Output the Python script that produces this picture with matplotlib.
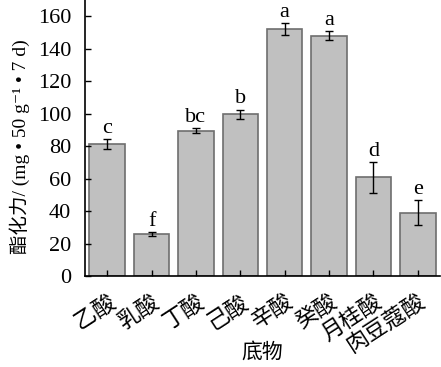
import matplotlib.pyplot as plt

# 数据 (根据图像估算)
substrates = ['乙酸', '乳酸', '丁酸', '己酸', '辛酸', '癸酸', '月桂酸', '肉豆蔻酸']
values = [81.3, 25.8, 89.6, 99.6, 152.2, 148.0, 60.7, 39.1]
errors = [3.0, 1.2, 1.4, 2.8, 3.7, 2.9, 9.5, 7.8]
letters = ['c', 'f', 'bc', 'b', 'a', 'a', 'd', 'e']

plt.rcParams['font.family'] = ['Liberation Serif', 'Noto Sans CJK SC', 'DejaVu Sans']

fig = plt.figure(figsize=(4.41, 3.67), dpi=100)
ax = fig.add_axes([85 / 441, 91 / 367, 355 / 441, 276 / 367])

x = list(range(len(substrates)))
ax.bar(x, values, width=0.8, color='#c0c0c0', edgecolor='#6e6e6e', linewidth=1.2,
       yerr=errors, capsize=3, error_kw={'elinewidth': 1, 'capthick': 1, 'ecolor': 'black'})

for xi, v, e, t in zip(x, values, errors, letters):
    ax.text(xi, v + e + 0.8, t, ha='center', va='bottom', fontsize=16)

ax.set_xlim(-0.5, 7.5)
ax.set_ylim(0, 170)
ax.set_yticks(range(0, 161, 20))
ax.set_xticks(x)
ax.set_xticklabels(substrates, rotation=33, ha='right', rotation_mode='anchor',
                   fontsize=13.5, family='Noto Sans CJK SC')
ax.tick_params(axis='both', direction='in', length=4, width=1, labelsize=16)
ax.tick_params(axis='x', pad=10)
ax.tick_params(axis='y', pad=10)

for s in ['top', 'right']:
    ax.spines[s].set_visible(False)
for s in ['left', 'bottom']:
    ax.spines[s].set_linewidth(1.2)

ax.set_ylabel('酯化力/ (mg • 50 g⁻¹ • 7 d)', fontsize=14)
ax.yaxis.set_label_coords(-0.155, 0.47)
ax.set_xlabel('底物', fontsize=15, family='Noto Sans CJK SC')
ax.xaxis.set_label_coords(0.5, -0.235)

fig.savefig('out.png', dpi=100)
